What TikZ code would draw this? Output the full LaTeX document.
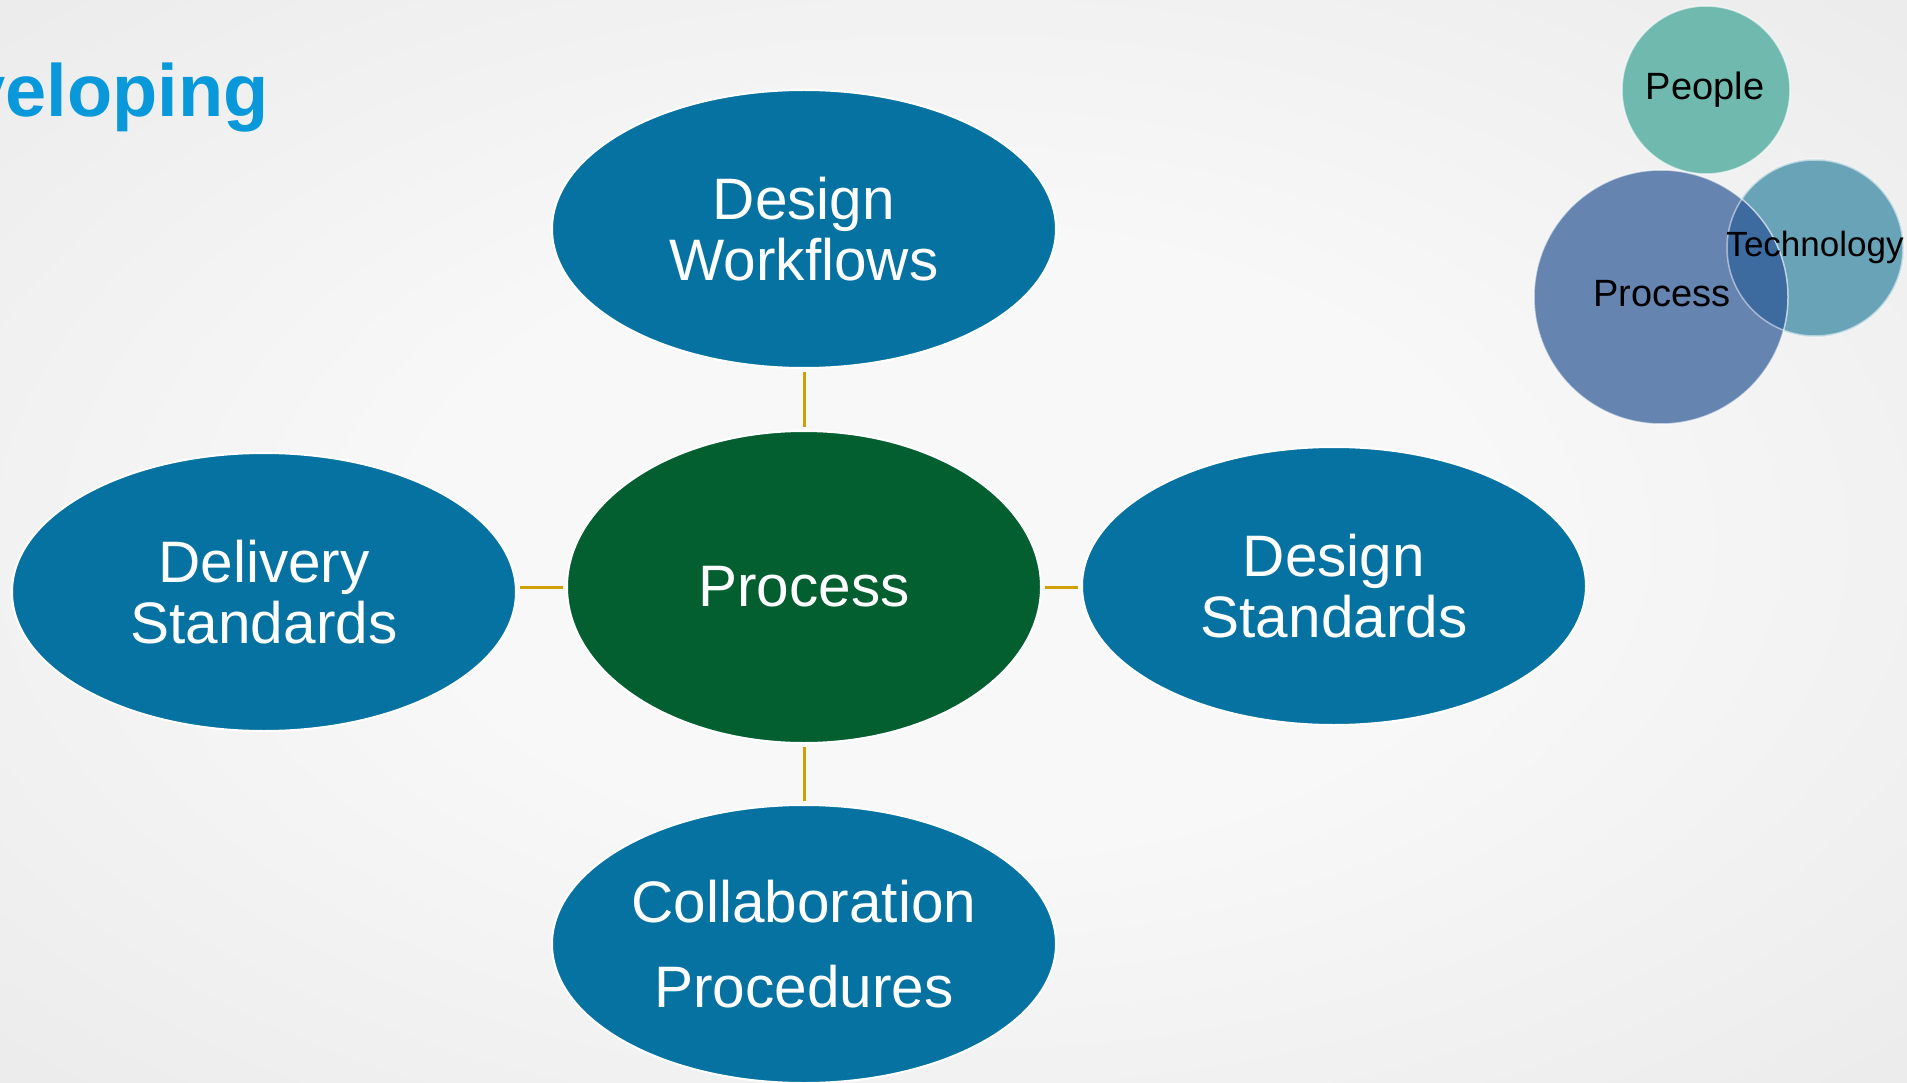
\documentclass[tikz,border=0pt]{standalone}
\usepackage{fontspec}
\setmainfont{Liberation Sans}
\usetikzlibrary{shapes.geometric}
\definecolor{ellblue}{HTML}{0672A1}
\definecolor{ellgreen}{HTML}{035E30}
\definecolor{linkgold}{HTML}{CFA000}
\definecolor{titleblue}{HTML}{0999DA}
\definecolor{peopleteal}{HTML}{70B9AE}
\definecolor{procblue}{HTML}{6584B0}
\definecolor{techblue}{HTML}{68A3B7}
\definecolor{overlapblue}{HTML}{3D6A9F}
\definecolor{bginner}{HTML}{F8F8F8}
\definecolor{bgmid}{HTML}{E3E3E3}
\definecolor{bgouter}{HTML}{D2D2D2}
\pgfdeclareradialshading{bgshade}{\pgfpoint{0bp}{0bp}}{color(0bp)=(bginner); color(14bp)=(bginner); color(50bp)=(bgmid); color(71bp)=(bgouter)}
\begin{document}
\begin{tikzpicture}[x=1pt,y=-1pt,
  ell/.style={ellipse, draw=white, line width=2pt, inner sep=0pt,
    minimum width=504pt, minimum height=278pt, text=white, align=center,
    font=\fontsize{58.5}{61}\selectfont},
  link/.style={draw=linkgold, line width=3pt, shorten <=3pt, shorten >=3pt},
  bub/.style={circle, inner sep=0pt, draw=white, draw opacity=0.6, line width=1.5pt},
  bubtext/.style={font=\fontsize{38}{44}\selectfont, text=black, inner sep=0pt}]
\useasboundingbox (0,0) rectangle (1907,1083);
\clip (0,0) rectangle (1907,1083);
\shade[shading=bgshade] (0,0) rectangle (1907,1083);

% title fragment
\node[anchor=base west, inner sep=0pt, text=titleblue,
  font=\fontsize{74}{80}\selectfont\bfseries] (title) at (-36,117) {veloping};

% main ellipses
\node[ell, fill=ellblue] (dw) at (804,229) {Design\\Workflows};
\node[ell, fill=ellgreen, minimum width=474pt, minimum height=312pt] (pr) at (804,587) {Process};
\node[ell, fill=ellblue] (ds) at (1334,586) {Design\\Standards};
\node[ell, fill=ellblue] (dl) at (264,592) {Delivery\\Standards};
\node[ell, fill=ellblue, font=\fontsize{58.5}{85}\selectfont] (cp) at (804,944) {Collaboration\\Procedures};

% connectors
\draw[link] (dw.south) -- (pr.north);
\draw[link] (pr.south) -- (cp.north);
\draw[link] (pr.west) -- (pr.west -| dl.east);
\draw[link] (pr.east) -- (pr.east -| ds.west);

% top-right bubbles
\node[bub, fill=peopleteal, minimum size=168pt] (people) at (1706,90) {};
\node[bub, fill=techblue, minimum size=178pt] (tech) at (1815,248) {};
\node[bub, fill=procblue, minimum size=254pt] (proc) at (1661,297) {};
\begin{scope}
  \clip (1661,297) circle[radius=126pt];
  \fill[overlapblue] (1815,248) circle[radius=88pt];
\end{scope}
\draw[white, opacity=0.5, line width=1.5pt] (1815,248) circle[radius=88pt];
\node[bubtext] (peopletext) at (1705,90) {People};
\node[bubtext, font=\fontsize{35}{40}\selectfont] (techtext) at (1815,247) {Technology};
\node[bubtext] (proctext) at (1662,294) {Process};
\end{tikzpicture}
\end{document}
